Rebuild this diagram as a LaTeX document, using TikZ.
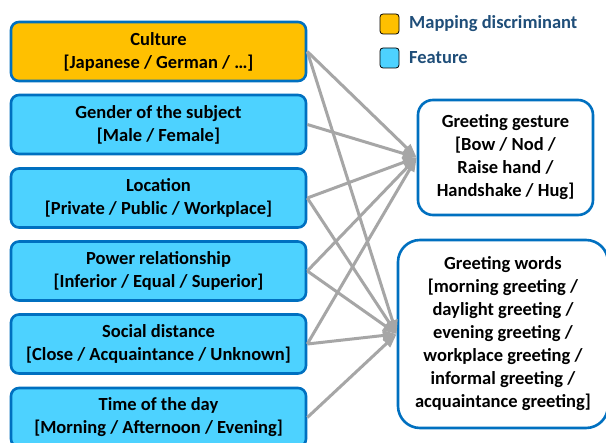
\documentclass[tikz,border=0pt]{standalone}
\usepackage{fontspec}
\setmainfont{Carlito}
\usetikzlibrary{arrows.meta}
\definecolor{bord}{HTML}{0070C0}
\definecolor{orng}{HTML}{FFC000}
\definecolor{feat}{HTML}{4DD2FF}
\definecolor{arr}{HTML}{A6A6A6}
\definecolor{legtxt}{HTML}{1F4E79}
\tikzset{
  txt/.style={font=\bfseries\fontsize{18.5}{23}\selectfont, align=center},
  leftbox/.style={txt, draw=bord, line width=2.6pt, rounded corners=8pt, minimum width=295pt, minimum height=59pt, inner sep=0pt},
  discbox/.style={leftbox, fill=orng},
  featbox/.style={leftbox, fill=feat},
  outbox/.style={txt, draw=bord, line width=2.6pt, fill=white, inner sep=0pt},
  conn/.style={draw=arr, line width=3pt, -{Triangle[length=14pt,width=10pt]}},
  legsq/.style={draw=black, line width=0.8pt, rounded corners=3pt, minimum width=19pt, minimum height=20pt, inner sep=0pt},
  legtext/.style={font=\bfseries\fontsize{18.5}{22}\selectfont, text=legtxt, anchor=west, inner sep=0pt}
}
\begin{document}
\begin{tikzpicture}[x=1pt,y=-1pt]
\useasboundingbox[fill=white] (0,0) rectangle (606,443);
\begin{scope}
\clip (0,0) rectangle (606,443);
\node[discbox] (cul) at (158.5,51.5) {Culture\\{[Japanese / German / …]}};
\node[featbox] (gen) at (158.5,124.5) {Gender of the subject\\{[Male / Female]}};
\node[featbox] (loc) at (158.5,198) {Location\\{[Private / Public / Workplace]}};
\node[featbox] (pow) at (158.5,271) {Power relationship\\{[Inferior / Equal / Superior]}};
\node[featbox] (soc) at (158.5,344) {Social distance\\{[Close / Acquaintance / Unknown]}};
\node[featbox] (tim) at (158.5,417.5) {Time of the day\\{[Morning / Afternoon / Evening]}};
\node[outbox, rounded corners=15pt, minimum width=175pt, minimum height=115pt] (ges) at (505.5,157.5) {Greeting gesture\\{[Bow / Nod /}\\Raise hand /\\Handshake / Hug]};
\node[outbox, rounded corners=22pt, minimum width=210pt, minimum height=188pt] (wor) at (503,334) {Greeting words\\{[morning greeting /}\\daylight greeting /\\evening greeting /\\workplace greeting /\\informal greeting /\\acquaintance greeting]};
\end{scope}
\draw[conn] (cul.east) -- (ges.west);
\draw[conn] (cul.east) -- (wor.west);
\draw[conn] (gen.east) -- (ges.west);
\draw[conn] (loc.east) -- (ges.west);
\draw[conn] (loc.east) -- (wor.west);
\draw[conn] (pow.east) -- (ges.west);
\draw[conn] (pow.east) -- (wor.west);
\draw[conn] (soc.east) -- (ges.west);
\draw[conn] (soc.east) -- (wor.west);
\draw[conn] (tim.east) -- (wor.west);
\node[legsq, fill=orng] (sqA) at (389.5,24) {};
\node[legsq, fill=feat] (sqB) at (389.5,58) {};
\node[legtext] (lgA) at (409,24) {Mapping discriminant};
\node[legtext] (lgB) at (409,58) {Feature};
\end{tikzpicture}
\end{document}
